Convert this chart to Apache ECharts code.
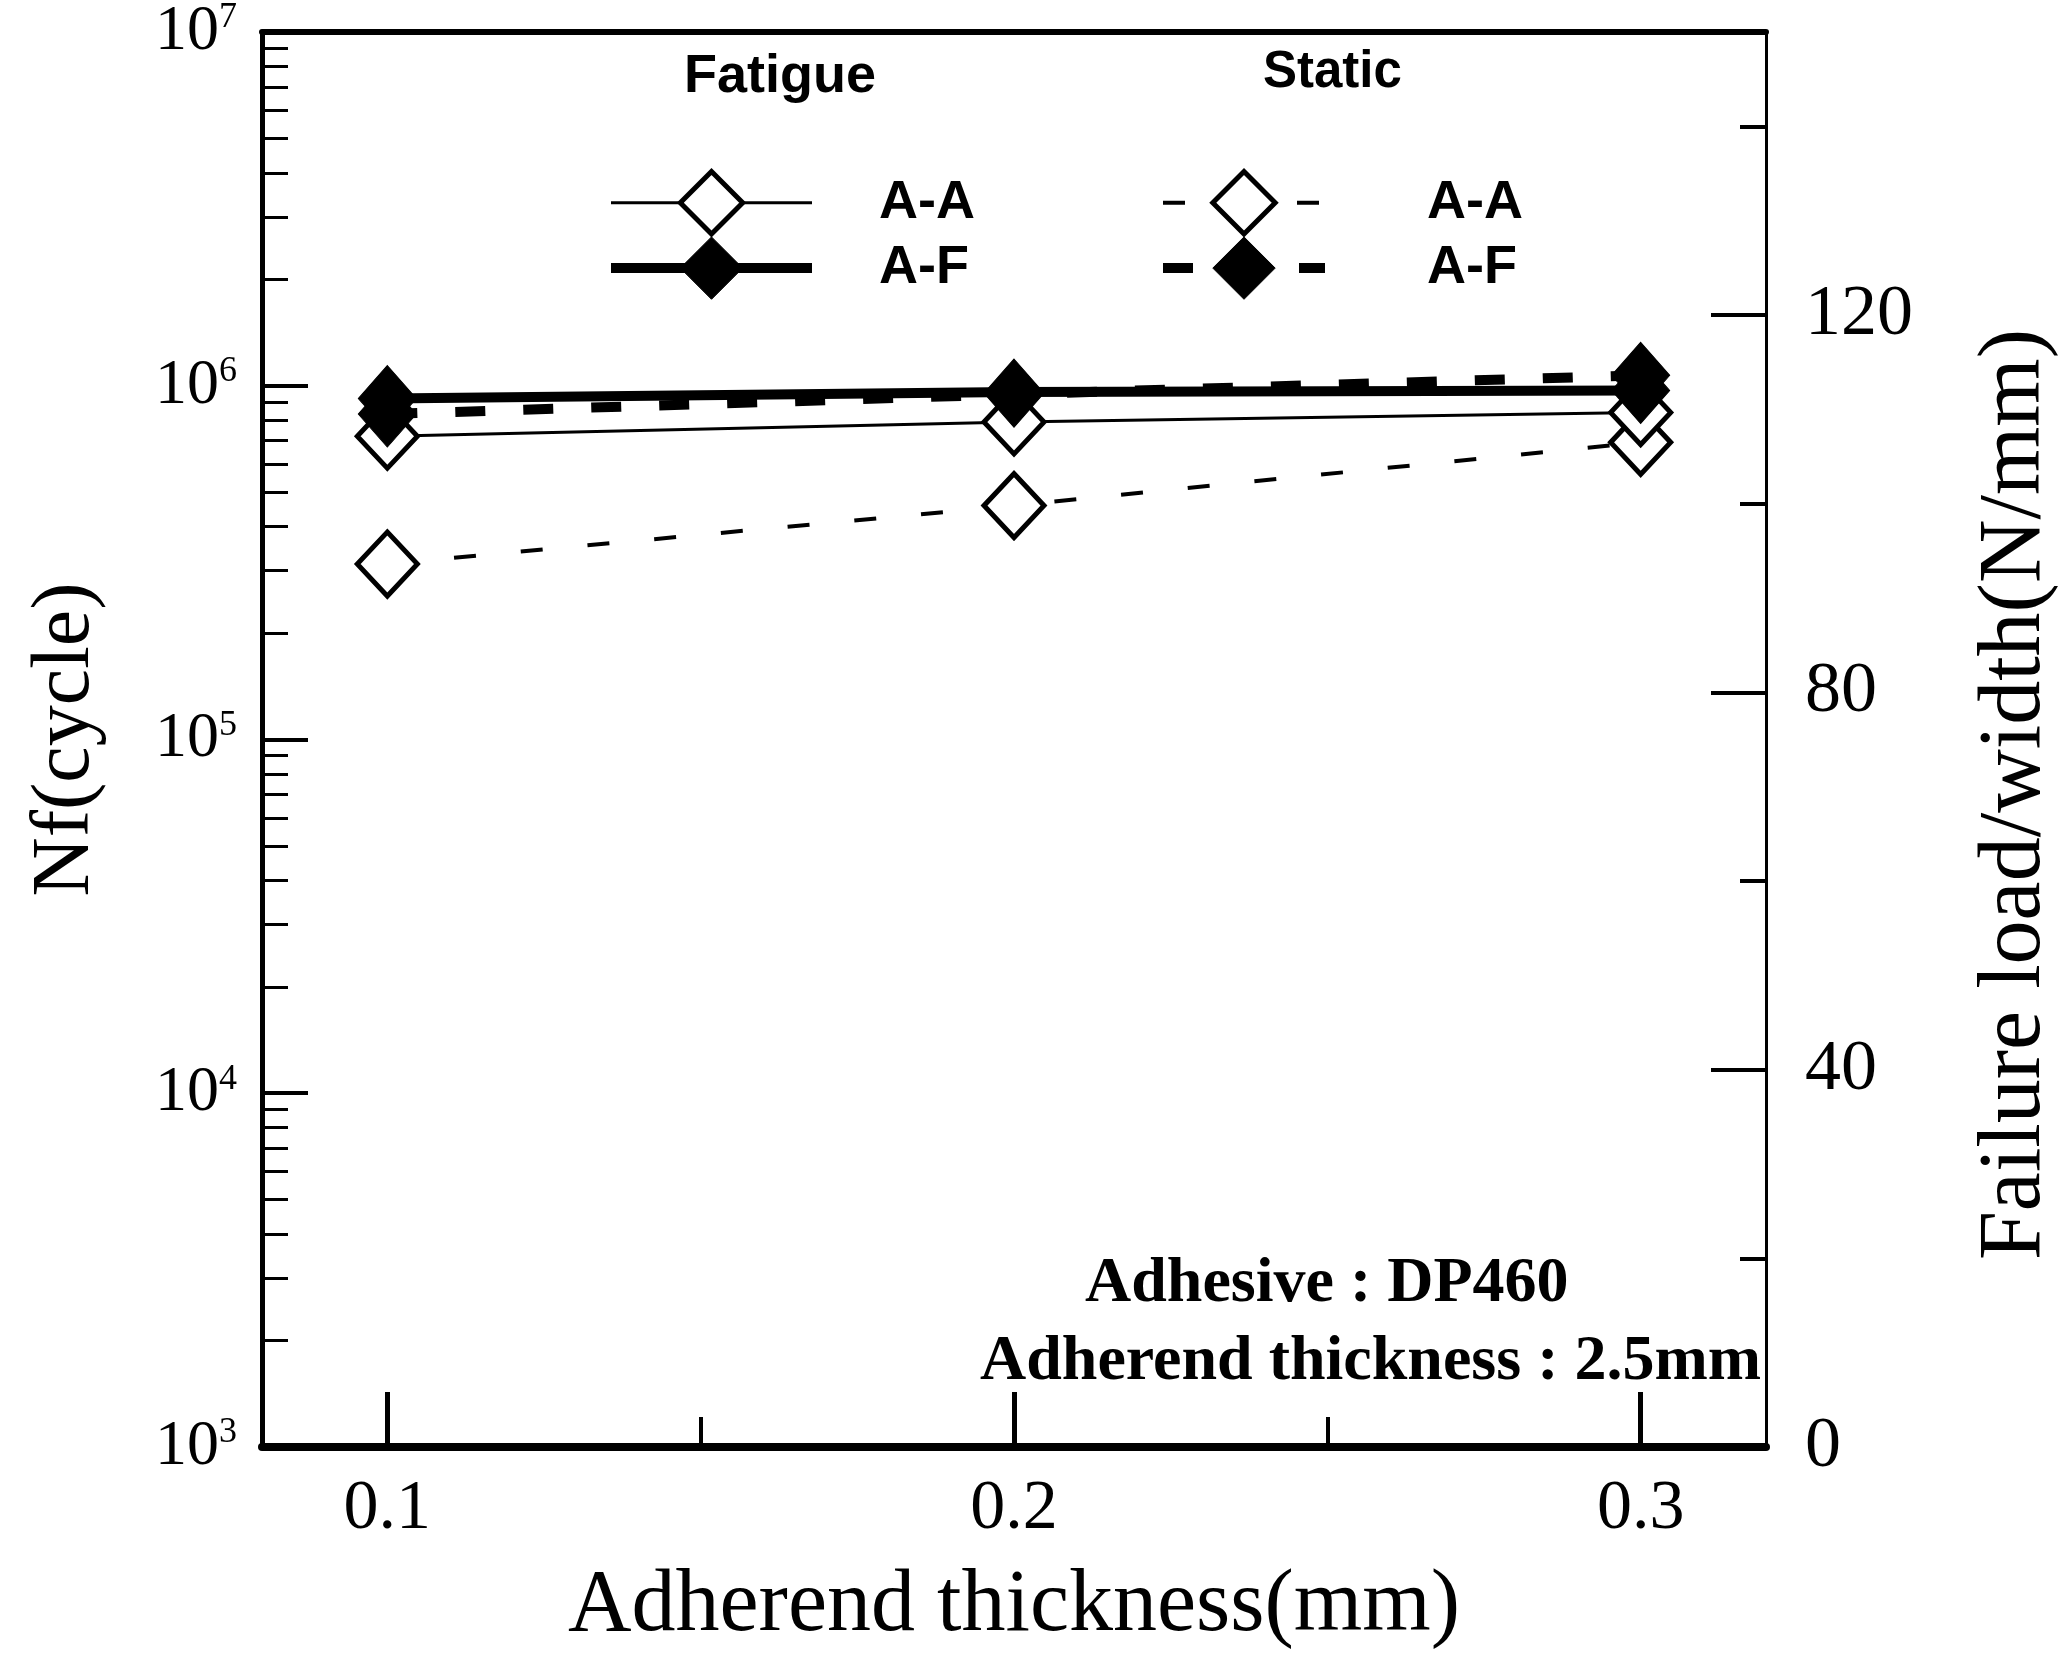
<!DOCTYPE html>
<html>
<head>
<meta charset="utf-8">
<script src="https://cdn.jsdelivr.net/npm/echarts@6/dist/echarts.min.js"></script>
<style>
html, body { margin: 0; background: #fff; }
#chart { width: 2063px; height: 1665px; }
</style>
</head>
<body>
<div id="chart"></div>
<script>
var chart = echarts.init(document.getElementById('chart'));

// data
var thickness = [0.1, 0.2, 0.3];
var fatigueAA = [7.2e5, 7.9e5, 8.4e5];
var fatigueAF = [9.2e5, 9.6e5, 9.7e5];
var staticAA = [93.6, 99.8, 106.5];
var staticAF = [109.5, 111.6, 113.6];

// ticks / labels
var xLabels = [0.1, 0.2, 0.3];
var xMinorTicks = [0.15, 0.25];
var nfDecades = [1e3, 1e4, 1e5, 1e6, 1e7];
var nfSteps = [2, 3, 4, 5, 6, 7, 8, 9];
var loadLabels = [0, 40, 80, 120];
var loadMinorTicks = [20, 60, 100, 140];

var nfMinorTicks = [];
nfDecades.slice(0, -1).forEach(function (d) {
    nfSteps.forEach(function (s) { nfMinorTicks.push(d * s); });
});

var serif = 'Liberation Serif';
var sans = 'Liberation Sans';

function pairs(ys) {
    return thickness.map(function (x, i) { return [x, ys[i]]; });
}

var openDiamond = { color: '#fff', borderColor: '#000', borderWidth: 5 };
var fullDiamond = { color: '#000', borderColor: '#000', borderWidth: 1 };

// legend: keep the series line width and border width
var legendCommon = {
    orient: 'vertical', top: 164,
    itemHeight: 78, itemGap: 0,
    selectedMode: false,
    lineStyle: { width: 'inherit' },
    itemStyle: { borderWidth: 'inherit' },
    formatter: function (n) { return n.split(' ')[1]; }
};

var option = {
    backgroundColor: '#fff',
    animation: false,
    grid: { left: 262, right: 297, top: 32, bottom: 218, outerBoundsMode: 'none' },
    xAxis: [{
        type: 'value', min: 0.08, max: 0.32, position: 'bottom',
        name: 'Adherend thickness(mm)', nameLocation: 'middle', nameGap: 116,
        nameTextStyle: { fontFamily: serif, fontSize: 88, color: '#000' },
        splitLine: { show: false },
        axisLine: { lineStyle: { color: '#000', width: 8 } },
        axisTick: { inside: true, length: 55, lineStyle: { color: '#000', width: 5 }, customValues: xLabels },
        axisLabel: {
            customValues: xLabels, margin: 28,
            formatter: function (v) { return v.toFixed(1); },
            fontFamily: serif, fontSize: 70, color: '#000'
        }
    }, {
        type: 'value', min: 0.08, max: 0.32, position: 'bottom',
        splitLine: { show: false },
        axisLine: { show: false },
        axisTick: { inside: true, length: 30, lineStyle: { color: '#000', width: 4 }, customValues: xMinorTicks },
        axisLabel: { show: false }
    }, {
        type: 'value', min: 0.08, max: 0.32, position: 'top',
        splitLine: { show: false },
        axisLine: { lineStyle: { color: '#000', width: 6 } },
        axisTick: { show: false },
        axisLabel: { show: false }
    }],
    yAxis: [{
        type: 'log', logBase: 10, min: 1e3, max: 1e7, position: 'left',
        name: 'Nf(cycle)', nameLocation: 'middle', nameRotate: 90, nameGap: 155,
        nameTextStyle: { fontFamily: serif, fontSize: 82, color: '#000' },
        splitLine: { show: false },
        axisLine: { lineStyle: { color: '#000', width: 5 } },
        axisTick: { inside: true, length: 46, lineStyle: { color: '#000', width: 4 }, customValues: nfDecades },
        axisLabel: {
            customValues: nfDecades, margin: 25,
            formatter: function (v) { return '{b|10}{s|' + Math.round(Math.log10(v)) + '}'; },
            rich: {
                b: { fontFamily: serif, fontSize: 64, color: '#000' },
                s: { fontFamily: serif, fontSize: 36, color: '#000', verticalAlign: 'top' }
            }
        }
    }, {
        type: 'log', logBase: 10, min: 1e3, max: 1e7, position: 'left',
        splitLine: { show: false },
        axisLine: { show: false },
        axisTick: { inside: true, length: 26, lineStyle: { color: '#000', width: 3 }, customValues: nfMinorTicks },
        axisLabel: { show: false }
    }, {
        type: 'value', min: 0, max: 150, position: 'right',
        name: 'Failure load/width(N/mm)', nameLocation: 'middle', nameRotate: 90, nameGap: 206,
        nameTextStyle: { fontFamily: serif, fontSize: 88, color: '#000', padding: [0, 110, 0, 0] },
        splitLine: { show: false },
        axisLine: { lineStyle: { color: '#000', width: 3 } },
        axisTick: { inside: true, length: 55, lineStyle: { color: '#000', width: 4 }, customValues: loadLabels },
        axisLabel: { customValues: loadLabels, margin: 39, fontFamily: serif, fontSize: 72, color: '#000' }
    }, {
        type: 'value', min: 0, max: 150, position: 'right',
        splitLine: { show: false },
        axisLine: { show: false },
        axisTick: { inside: true, length: 26, lineStyle: { color: '#000', width: 4 }, customValues: loadMinorTicks },
        axisLabel: { show: false }
    }],
    legend: [
        Object.assign({}, legendCommon, {
            data: ['Fatigue A-A', 'Fatigue A-F'],
            left: 601, itemWidth: 201,
            textStyle: { fontFamily: sans, fontWeight: 'bold', fontSize: 54, color: '#000', padding: [0, 0, 0, 62] }
        }),
        Object.assign({}, legendCommon, {
            data: ['Static A-A', 'Static A-F'],
            left: 1153, itemWidth: 162,
            textStyle: { fontFamily: sans, fontWeight: 'bold', fontSize: 54, color: '#000', padding: [0, 0, 0, 97] }
        })
    ],
    graphic: [
        { type: 'text', left: 684, top: 50, style: { text: 'Fatigue', font: 'bold 54px "Liberation Sans"', fill: '#000' } },
        { type: 'text', left: 1263, top: 47, style: { text: 'Static', font: 'bold 51px "Liberation Sans"', fill: '#000' } },
        { type: 'text', left: 1085, top: 1252, style: { text: 'Adhesive : DP460', font: 'bold 64px "Liberation Serif"', fill: '#000' } },
        { type: 'text', left: 980, top: 1330, style: { text: 'Adherend thickness : 2.5mm', font: 'bold 64px "Liberation Serif"', fill: '#000' } }
    ],
    series: [{
        name: 'Static A-A', type: 'line', xAxisIndex: 0, yAxisIndex: 2,
        data: pairs(staticAA),
        symbol: 'diamond', symbolSize: [60, 64],
        lineStyle: { color: '#000', width: 4, type: [22, 45] },
        itemStyle: openDiamond, z: 2
    }, {
        name: 'Fatigue A-A', type: 'line', xAxisIndex: 0, yAxisIndex: 0,
        data: pairs(fatigueAA),
        symbol: 'diamond', symbolSize: [60, 64],
        lineStyle: { color: '#000', width: 3, type: 'solid' },
        itemStyle: openDiamond, z: 3
    }, {
        name: 'Static A-F', type: 'line', xAxisIndex: 0, yAxisIndex: 2,
        data: pairs(staticAF),
        symbol: 'diamond', symbolSize: [58, 66],
        lineStyle: { color: '#000', width: 10, type: [30, 38] },
        itemStyle: fullDiamond, z: 4
    }, {
        name: 'Fatigue A-F', type: 'line', xAxisIndex: 0, yAxisIndex: 0,
        data: pairs(fatigueAF),
        symbol: 'diamond', symbolSize: [58, 66],
        lineStyle: { color: '#000', width: 10, type: 'solid' },
        itemStyle: fullDiamond, z: 5
    }]
};
chart.setOption(option);
</script>
</body>
</html>
